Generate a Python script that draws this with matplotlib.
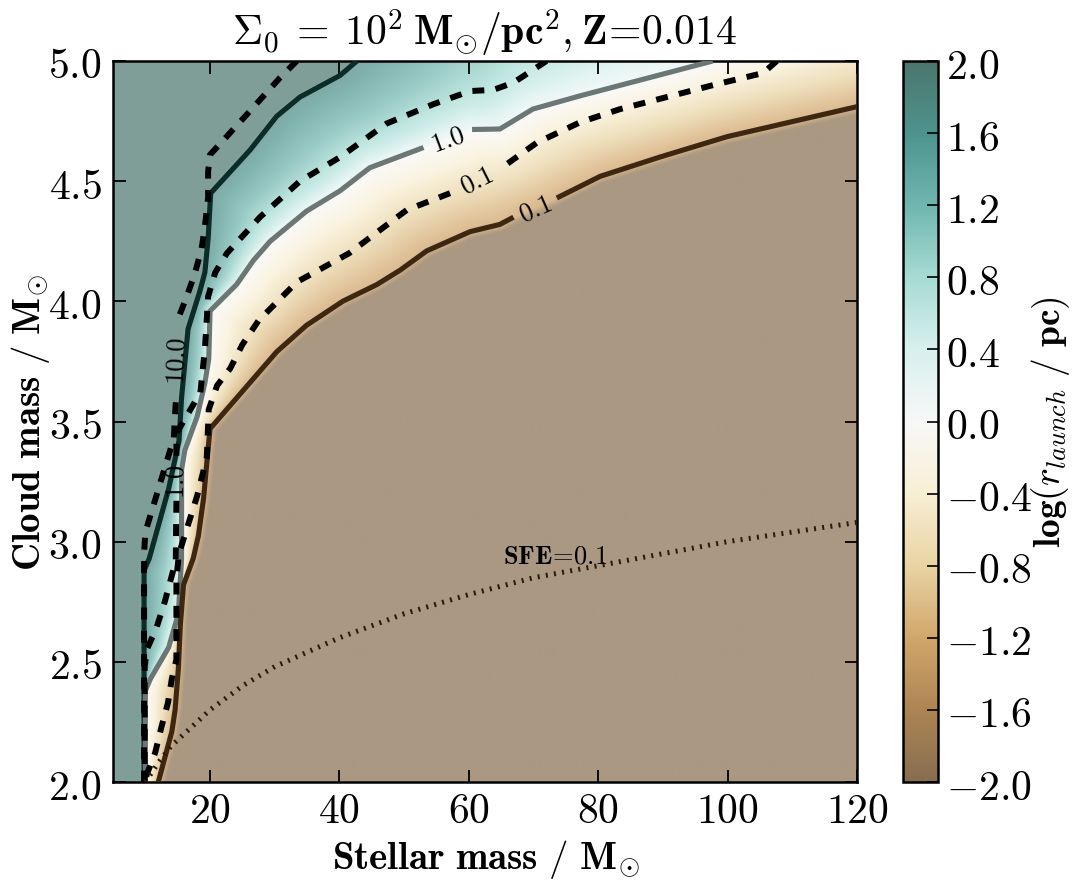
import numpy as np
import matplotlib
matplotlib.use("Agg")
import matplotlib.pyplot as plt
from matplotlib.path import Path
from matplotlib.ticker import FuncFormatter

plt.rcParams['mathtext.fontset'] = 'cm'
plt.rcParams['font.family'] = ['DejaVu Serif']
plt.rcParams['axes.unicode_minus'] = True

# ---------------- data ----------------
NAN = np.nan
# solid contours of log(r_launch) (levels 1, 0, -1); NaN = label gap
solid_hi_x = [42.7, 40.1, 33.9, 30.3, 26.2, 20.1, 19.7, 19.2, 18.4, 16.6, 15.6, 15.2, 13.6, 10.6, 9.8, 9.8]
solid_hi_y = [5.00, 4.94, 4.85, 4.77, 4.63, 4.45, 4.26, 4.12, 4.04, 3.885, 3.60, 3.42, 3.22, 2.93, 2.88, 2.00]
solid_mid_x = [97.7, 77.2, 69.9, 64.8, 60.5, NAN, 53.0, 44.7, 40.1, 34.9, 29.3, 26.7, 24.1, 20.0, 19.8, 19.2,
               18.0, 16.1, 15.6, 15.6, 15.1, 13.6, 10.8, 10.0, 10.0]
solid_mid_y = [5.00, 4.855, 4.80, 4.717, 4.715, NAN, 4.64, 4.556, 4.46, 4.375, 4.25, 4.17, 4.07, 3.96, 3.76, 3.66,
               3.52, 3.38, 3.30, 2.93, 2.70, 2.56, 2.43, 2.38, 2.00]
solid_lo_x = [120.0, 99.9, 89.5, 80.3, 73.6, NAN, 66.9, 64.8, 60.2, 53.5, 49.4, 45.8, 40.5, 34.9, 30.3, 20.0,
              19.7, 19.0, 18.2, 17.4, 15.9, 15.4, 15.1, 14.6, 14.1, 13.0, 12.0]
solid_lo_y = [4.81, 4.685, 4.60, 4.52, 4.43, NAN, 4.35, 4.32, 4.29, 4.21, 4.13, 4.07, 4.00, 3.90, 3.79, 3.47,
              3.385, 3.18, 3.025, 2.93, 2.82, 2.65, 2.47, 2.30, 2.21, 2.10, 2.00]
# dashed contours (second model), levels 1, 0, -1
dash_hi_x = [33.4, 30.8, 25.1, 20.0, 19.7, 19.7, 19.2, 18.7, 17.7, 16.4, 15.1, NAN, 14.7, 14.4, 10.0, 9.8, 9.8]
dash_hi_y = [5.00, 4.93, 4.76, 4.61, 4.54, 4.43, 4.31, 4.22, 4.12, 4.02, 3.93, NAN, 3.58, 3.43, 3.04, 2.95, 2.00]
dash_mid_x = [72.0, 66.9, 63.8, 60.2, 54.5, 47.3, 40.1, 33.9, 27.7, 22.6, 20.8, 19.7, 19.5, 19.2, 18.5, 16.1,
              14.8, 14.8, NAN, 14.8, 14.7, 13.0, 11.7, 10.2, 9.9, 9.9]
dash_mid_y = [5.00, 4.91, 4.88, 4.875, 4.82, 4.74, 4.60, 4.50, 4.35, 4.20, 4.12, 4.02, 3.93, 3.80, 3.62, 3.51,
              3.45, 3.34, NAN, 3.17, 2.92, 2.75, 2.64, 2.55, 2.48, 2.00]
dash_lo_x = [107.6, 105.5, 97.8, 90.6, 83.4, 77.2, 70.5, 65.3, NAN, 57.1, 50.4, 41.5, 33.4, 27.5, 25.0, 23.1,
             21.1, 19.8, 19.5, 18.0, 15.2, 14.8, 14.8, 14.1, 13.5, 12.5, 11.5, 10.2, 10.0]
dash_lo_y = [5.00, 4.95, 4.90, 4.85, 4.80, 4.745, 4.66, 4.56, NAN, 4.45, 4.38, 4.20, 4.08, 3.92, 3.82, 3.72,
             3.65, 3.55, 3.35, 3.19, 2.95, 2.85, 2.51, 2.43, 2.33, 2.23, 2.12, 2.03, 2.00]
contour_levels = [1.0, 0.0, -1.0]
contour_texts = ['10.0', '1.0', '0.1']

# SFE = 0.1 curve
sfe_mstar = [10, 11, 12, 14, 16, 20, 25, 30, 40, 50, 60, 70, 80, 90, 100, 110, 120]
sfe_logmc = [2.00, 2.04, 2.08, 2.15, 2.20, 2.30, 2.40, 2.48, 2.60, 2.70, 2.78, 2.85, 2.90, 2.95, 3.00, 3.04, 3.08]

xticks = [20, 40, 60, 80, 100, 120]
yticks = [2.0, 2.5, 3.0, 3.5, 4.0, 4.5, 5.0]
cticks = [-2.0, -1.6, -1.2, -0.8, -0.4, 0.0, 0.4, 0.8, 1.2, 1.6, 2.0]

# ---------------- figure ----------------
W, H = 1083, 887
fig = plt.figure(figsize=(W / 100, H / 100), dpi=100)
ax = fig.add_axes([113 / W, 1 - 783 / H, (857 - 113) / W, (783 - 62) / H])
ax.set_xlim(5, 120)
ax.set_ylim(2, 5)

# ---- reconstruct the background field from the solid contours ----
nx, ny = 460, 360
gx = np.linspace(5, 120, nx)
gy = np.linspace(2, 5, ny)
GX, GY = np.meshgrid(gx, gy)
gpts = np.column_stack([GX.ravel(), GY.ravel()])
gdisp = ax.transData.transform(gpts)


def clean(xs, ys):
    a = np.column_stack([xs, ys]).astype(float)
    return a[~np.isnan(a[:, 0])]


def dist_to(line):
    d = ax.transData.transform(line)
    a, b = d[:-1], d[1:]
    ab = b - a
    ap = gdisp[:, None, :] - a[None, :, :]
    t = np.clip((ap * ab[None]).sum(2) / np.maximum((ab * ab).sum(1), 1e-9)[None], 0, 1)
    proj = a[None] + t[..., None] * ab[None]
    return np.sqrt(((gdisp[:, None, :] - proj) ** 2).sum(2)).min(1)


def upper_left(line):
    poly = np.vstack([[[130, 5.3]], line, [[line[-1, 0], 1.7], [0, 1.7], [0, 5.3]]])
    return Path(poly).contains_points(gpts)


def extend_top(line):
    # continue the first segment beyond the frame so shading keeps its direction
    p, q = line[0], line[1]
    return np.vstack([p + (p - q) * 1.5, line])


L1 = extend_top(clean(solid_hi_x, solid_hi_y))
L0 = extend_top(clean(solid_mid_x, solid_mid_y))
Lm = extend_top(clean(solid_lo_x, solid_lo_y))
d1, d0, dm = dist_to(L1), dist_to(L0), dist_to(Lm)
in1, in0, inm = upper_left(L1), upper_left(L0), upper_left(Lm)
t_up = d0 / (d0 + d1 + 1e-9)
t_dn = d0 / (d0 + dm + 1e-9)
v = np.where(in1, 1.75 + d1 / 25.0,
             np.where(in0, 1.75 * t_up ** 0.6,
                      np.where(inm, -1.3 * t_dn ** 0.9, -1.3 - dm / 10.0)))
V = np.clip(v, -2, 2).reshape(ny, nx)

im = ax.imshow(V, extent=[5, 120, 2, 5], origin='lower', aspect='auto', cmap='BrBG',
               vmin=-2, vmax=2, alpha=0.5, interpolation='bilinear', zorder=0)

# ---- contour lines ----
solid_colors = ['#0c2c27', '#6a7775', '#3e2711']
solid_sets = [(solid_hi_x, solid_hi_y), (solid_mid_x, solid_mid_y), (solid_lo_x, solid_lo_y)]
dash_sets = [(dash_hi_x, dash_hi_y), (dash_mid_x, dash_mid_y), (dash_lo_x, dash_lo_y)]
for (xs, ys), c in zip(solid_sets, solid_colors):
    ax.plot(xs, ys, color=c, lw=3.7, solid_capstyle='butt', solid_joinstyle='miter', zorder=3)
for xs, ys in dash_sets:
    ax.plot(xs, ys, color='black', lw=4.3, dashes=(2.0, 1.9), dash_capstyle='butt', zorder=4)


def gap_label(xs, ys, text):
    xs = list(xs)
    i = [k for k, val in enumerate(xs) if np.isnan(val)][0]
    p = np.array([xs[i - 1], ys[i - 1]])
    q = np.array([xs[i + 1], ys[i + 1]])
    dp, dq = ax.transData.transform([p, q])
    ang = np.degrees(np.arctan2(dq[1] - dp[1], dq[0] - dp[0]))
    while ang > 90:
        ang -= 180
    while ang <= -90:
        ang += 180
    if ang < -60:
        ang += 180
    mid = (p + q) / 2
    ax.text(mid[0], mid[1], '$' + text + '$', rotation=ang, rotation_mode='anchor',
            ha='center', va='center', fontsize=19, color='black', zorder=5)


gap_label(solid_mid_x, solid_mid_y, contour_texts[1])
gap_label(solid_lo_x, solid_lo_y, contour_texts[2])
gap_label(dash_hi_x, dash_hi_y, contour_texts[0])
gap_label(dash_mid_x, dash_mid_y, contour_texts[1])
gap_label(dash_lo_x, dash_lo_y, contour_texts[2])

# ---- SFE line ----
ax.plot(sfe_mstar, sfe_logmc, color='#2a1a0c', lw=3.6, dashes=(0.4, 1.25), dash_capstyle='butt', zorder=4)
ax.text(65.3, 2.915, r'$\mathbf{SFE}\!\mathbf{=}\!\mathbf{0.1}$', fontsize=19, ha='left', va='baseline',
        zorder=5)

# ---- axes styling ----
ax.set_xticks(xticks)
ax.set_yticks(yticks)
ax.xaxis.set_major_formatter(FuncFormatter(lambda v, p: r'$%d$' % v))
ax.yaxis.set_major_formatter(FuncFormatter(lambda v, p: r'$%.1f$' % v))
ax.tick_params(direction='in', length=9, width=1.3, labelsize=30, top=True, right=True, pad=8)
ax.tick_params(axis='x', pad=5)
for s in ax.spines.values():
    s.set_linewidth(1.8)
ax.set_xlabel(r'$\mathbf{Stellar\ mass\ /\ M}_{\odot}$', fontsize=28, va='top')
ax.xaxis.set_label_coords((486 - 113) / 744, (783 - 838) / 721)
ax.set_ylabel(r'$\mathbf{Cloud\ mass\ /\ M}_{\odot}$', fontsize=28, va='center')
ax.yaxis.set_label_coords((31 - 113) / 744, 0.5)
ax.set_title(r'$\Sigma_0\:\mathbf{=}\:10^2\:\mathbf{M}_{\odot}\mathbf{/pc}^2\mathbf{,}\:\mathbf{Z}\!\mathbf{=}\!\mathbf{0.014}$',
             fontsize=30, pad=12)

# ---- colorbar ----
cax = fig.add_axes([903 / W, 1 - 783 / H, 35 / W, (783 - 62) / H])
cb = fig.colorbar(im, cax=cax, ticks=cticks)
cb.solids.set_alpha(0.7)
cb.ax.yaxis.set_major_formatter(FuncFormatter(lambda v, p: r'$%.1f$' % v))
cb.ax.tick_params(direction='in', length=8, width=1.2, labelsize=30, pad=6)
cb.outline.set_linewidth(1.8)
cb.set_label(r'$\mathbf{log(}r_{launch}\mathbf{\ /\ pc)}$', fontsize=27, va='center')
cb.ax.yaxis.set_label_coords((1050 - 903) / 35, 0.5)

fig.savefig('out.png', dpi=100)
